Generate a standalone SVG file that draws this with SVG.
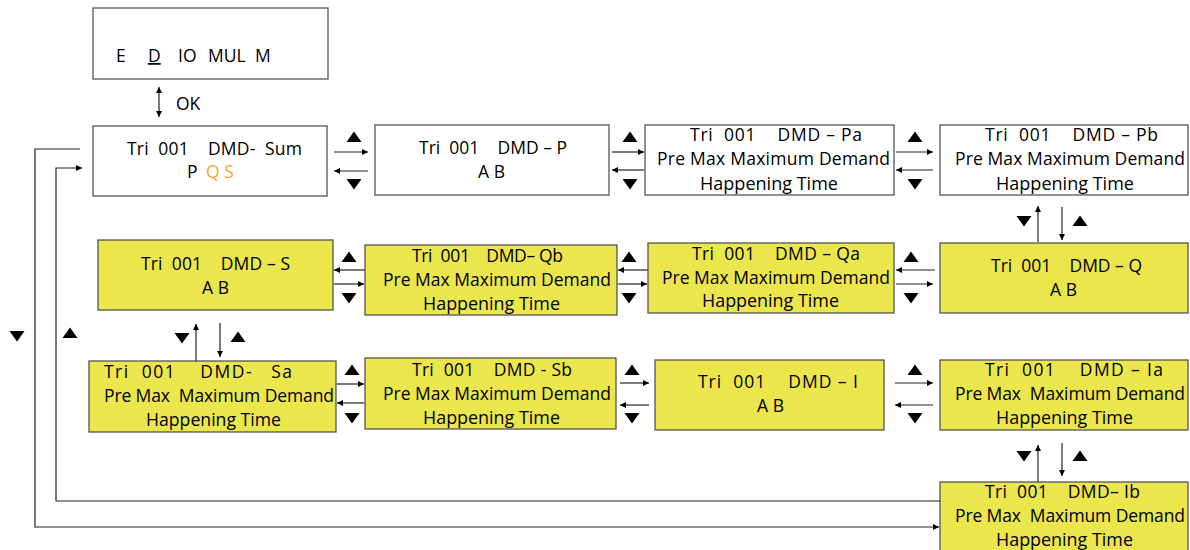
<svg xmlns="http://www.w3.org/2000/svg" width="1190" height="550" viewBox="0 0 1190 550">
<style>
.box{stroke:#555;stroke-width:1.3}
.w{fill:#fff}
.y{fill:#EAE64B}
text{font-family:"Open Sans","Liberation Sans",sans-serif;font-size:17.5px;fill:#000;white-space:pre}
.h{font-size:17.5px}
.or{fill:#F0A830}
.ln{stroke:#222;stroke-width:1.2;fill:none;marker-end:url(#ah)}
.tri{fill:#000}
</style>
<defs>
<marker id="ah" viewBox="0 0 10 10" refX="10" refY="5" markerWidth="8" markerHeight="6" markerUnits="userSpaceOnUse" orient="auto-start-reverse"><path d="M0,0 L10,5 L0,10 z" fill="#000"/></marker>
<path id="up" d="M-7.5,5 L7.5,5 L0,-5.5 z"/>
<path id="dn" d="M-7.5,-5 L7.5,-5 L0,5.5 z"/>
</defs>
<rect width="1190" height="550" fill="#fff"/>

<g id="menu">
<rect class="box w" x="93" y="8" width="235" height="71"/>
<text y="62"><tspan x="116">E</tspan><tspan x="148" style="text-decoration:underline">D</tspan><tspan x="178">IO</tspan><tspan x="208">MUL</tspan><tspan x="255">M</tspan></text>
</g>

<g id="sum">
<rect class="box w" x="93" y="126" width="234" height="70"/>
<text x="127" y="155" textLength="175">Tri  001    DMD-  Sum</text>
<text y="178"><tspan x="187">P</tspan><tspan x="206" class="or">Q S</tspan></text>
</g>
<g id="p">
<rect class="box w" x="375" y="125" width="234" height="70"/>
<text x="419" y="154" textLength="148">Tri  001    DMD – P</text>
<text x="478" y="178" textLength="27">A B</text>
</g>
<g id="pa">
<rect class="box w" x="645" y="125" width="249" height="70"/>
<text x="690" y="141" textLength="172">Tri  001    DMD – Pa</text>
<text x="657" y="165" textLength="233">Pre Max Maximum Demand</text>
<text x="700" y="190" textLength="138" lengthAdjust="spacingAndGlyphs">Happening Time</text>
</g>
<g id="pb">
<rect class="box w" x="940" y="125" width="248" height="70"/>
<text x="985" y="141" textLength="173">Tri  001    DMD – Pb</text>
<text x="955" y="165" textLength="230">Pre Max Maximum Demand</text>
<text x="996" y="190" textLength="138" lengthAdjust="spacingAndGlyphs">Happening Time</text>
</g>

<g id="s">
<rect class="box y" x="98" y="240" width="235" height="70"/>
<text x="141" y="270" textLength="149">Tri  001    DMD – S</text>
<text x="202" y="294" textLength="27">A B</text>
</g>
<g id="qb">
<rect class="box y" x="365" y="245" width="252" height="70"/>
<text x="412" y="262" textLength="151">Tri  001    DMD– Qb</text>
<text x="383" y="286" textLength="228">Pre Max Maximum Demand</text>
<text x="423" y="310" textLength="137" lengthAdjust="spacingAndGlyphs">Happening Time</text>
</g>
<g id="qa">
<rect class="box y" x="648" y="243" width="246" height="70"/>
<text x="692" y="260" textLength="168">Tri  001    DMD – Qa</text>
<text x="662" y="284" textLength="228">Pre Max Maximum Demand</text>
<text x="702" y="307" textLength="137" lengthAdjust="spacingAndGlyphs">Happening Time</text>
</g>
<g id="q">
<rect class="box y" x="940" y="243" width="248" height="70"/>
<text x="991" y="272" textLength="151">Tri  001    DMD – Q</text>
<text x="1050" y="296" textLength="27">A B</text>
</g>

<g id="sa">
<rect class="box y" x="89" y="361" width="247" height="71"/>
<text x="104" y="378" textLength="188">Tri  001    DMD-   Sa</text>
<text x="104" y="402" textLength="230">Pre Max  Maximum Demand</text>
<text x="146" y="426" textLength="135" lengthAdjust="spacingAndGlyphs">Happening Time</text>
</g>
<g id="sb">
<rect class="box y" x="365" y="358" width="251" height="71"/>
<text x="412" y="376" textLength="160">Tri  001    DMD - Sb</text>
<text x="383" y="400" textLength="228">Pre Max Maximum Demand</text>
<text x="423" y="424" textLength="137" lengthAdjust="spacingAndGlyphs">Happening Time</text>
</g>
<g id="i">
<rect class="box y" x="655" y="360" width="229" height="70"/>
<text x="698" y="388" textLength="160">Tri  001    DMD – I</text>
<text x="757" y="412" textLength="27">A B</text>
</g>
<g id="ia">
<rect class="box y" x="940" y="360" width="248" height="70"/>
<text x="985" y="376" textLength="178">Tri  001    DMD – Ia</text>
<text x="955" y="400" textLength="230">Pre Max  Maximum Demand</text>
<text x="996" y="424" textLength="137" lengthAdjust="spacingAndGlyphs">Happening Time</text>
</g>
<g id="ib">
<rect class="box y" x="940" y="482" width="248" height="75"/>
<text x="985" y="498" textLength="155">Tri  001    DMD– Ib</text>
<text x="955" y="522" textLength="230">Pre Max  Maximum Demand</text>
<text x="996" y="546" textLength="137" lengthAdjust="spacingAndGlyphs">Happening Time</text>
</g>

<g id="connectors">
<line class="ln" x1="159" y1="102" x2="159" y2="117"/>
<line class="ln" x1="159" y1="102" x2="159" y2="87"/>
<text x="176" y="110">OK</text>

<line class="ln" x1="334" y1="152" x2="368" y2="152"/>
<line class="ln" x1="368" y1="171" x2="334" y2="171"/>
<use href="#up" class="tri" x="354" y="137"/>
<use href="#dn" class="tri" x="354" y="184"/>

<line class="ln" x1="612" y1="152" x2="644" y2="152"/>
<line class="ln" x1="644" y1="170" x2="612" y2="170"/>
<use href="#up" class="tri" x="630" y="137"/>
<use href="#dn" class="tri" x="630" y="184"/>

<line class="ln" x1="896" y1="152" x2="933" y2="152"/>
<line class="ln" x1="933" y1="170" x2="896" y2="170"/>
<use href="#up" class="tri" x="915" y="137"/>
<use href="#dn" class="tri" x="915" y="184"/>

<line class="ln" x1="1038" y1="242" x2="1038" y2="206"/>
<line class="ln" x1="1062" y1="207" x2="1062" y2="240"/>
<use href="#dn" class="tri" x="1024" y="221"/>
<use href="#up" class="tri" x="1080" y="221"/>

<line class="ln" x1="365" y1="270" x2="334" y2="270"/>
<line class="ln" x1="334" y1="284" x2="364" y2="284"/>
<use href="#up" class="tri" x="349" y="257"/>
<use href="#dn" class="tri" x="349" y="298"/>

<line class="ln" x1="648" y1="270" x2="618" y2="270"/>
<line class="ln" x1="618" y1="284" x2="647" y2="284"/>
<use href="#up" class="tri" x="629" y="257"/>
<use href="#dn" class="tri" x="629" y="298"/>

<line class="ln" x1="935" y1="270" x2="896" y2="270"/>
<line class="ln" x1="896" y1="284" x2="933" y2="284"/>
<use href="#up" class="tri" x="911" y="257"/>
<use href="#dn" class="tri" x="911" y="298"/>

<line class="ln" x1="196" y1="361" x2="196" y2="324"/>
<line class="ln" x1="220" y1="323" x2="220" y2="357"/>
<use href="#dn" class="tri" x="182" y="338"/>
<use href="#up" class="tri" x="238" y="337"/>

<line class="ln" x1="337" y1="384" x2="364" y2="384"/>
<line class="ln" x1="364" y1="403" x2="337" y2="403"/>
<use href="#up" class="tri" x="352" y="370"/>
<use href="#dn" class="tri" x="352" y="418"/>

<line class="ln" x1="620" y1="383" x2="649" y2="383"/>
<line class="ln" x1="649" y1="405" x2="620" y2="405"/>
<use href="#up" class="tri" x="632" y="370"/>
<use href="#dn" class="tri" x="632" y="418"/>

<line class="ln" x1="895" y1="383" x2="933" y2="383"/>
<line class="ln" x1="933" y1="405" x2="895" y2="405"/>
<use href="#up" class="tri" x="915" y="370"/>
<use href="#dn" class="tri" x="915" y="418"/>

<line class="ln" x1="1038" y1="482" x2="1038" y2="445"/>
<line class="ln" x1="1062" y1="443" x2="1062" y2="476"/>
<use href="#dn" class="tri" x="1024" y="456"/>
<use href="#up" class="tri" x="1080" y="456"/>

<polyline class="ln" points="80,149 35,149 35,527 939,527"/>
<polyline class="ln" points="940,501 56,501 56,168 82,168"/>
<use href="#dn" class="tri" x="17" y="336"/>
<use href="#up" class="tri" x="70" y="333"/>
</g>
</svg>
